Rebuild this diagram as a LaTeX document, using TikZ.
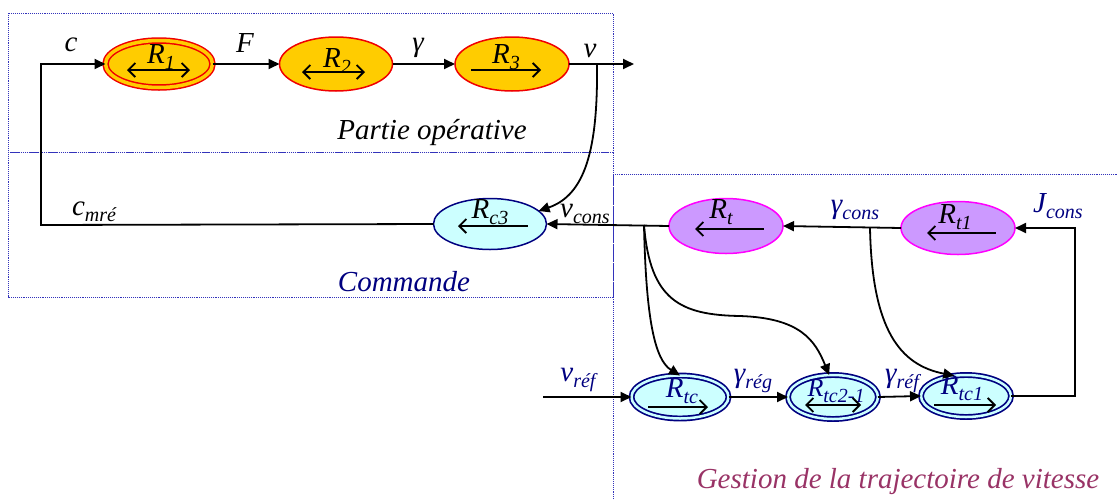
\documentclass[tikz,border=0pt]{standalone}
\usepackage{fontspec}
\setmainfont{Liberation Serif}
\usetikzlibrary{arrows.meta,shapes.geometric,calc}
\definecolor{orgF}{HTML}{FFCC00}
\definecolor{redB}{HTML}{F00000}
\definecolor{cyanF}{HTML}{CCFFFF}
\definecolor{navyB}{HTML}{000080}
\definecolor{lavF}{HTML}{CC99FF}
\definecolor{magB}{HTML}{FF00FF}
\definecolor{boxB}{HTML}{3333BB}
\definecolor{gestC}{HTML}{993366}
\newcommand\sbx[1]{\raisebox{-6pt}{\fontsize{20}{20}\selectfont #1}}
\begin{document}
\begin{tikzpicture}[x=1pt,y=-1pt,
  font=\fontsize{29}{34}\selectfont\itshape,
  conn/.style={line width=1.8pt,-{Triangle[length=11pt,width=10pt]}},
  ell/.style={ellipse,inner sep=0pt,outer sep=0pt,line width=1.5pt},
  opr/.style={ell,fill=orgF,draw=redB},
  cmd/.style={ell,fill=cyanF,draw=navyB},
  trj/.style={ell,fill=lavF,draw=magB},
  dblopr/.style={opr,double=orgF,double distance=3.5pt},
  dblcmd/.style={cmd,line width=1.7pt,double=cyanF,double distance=2.5pt},
  inarr/.style={line width=1.8pt},
  rarr/.style={inarr,-{Straight Barb[length=7pt,width=14pt]}},
  larr/.style={inarr,{Straight Barb[length=7pt,width=14pt]}-},
  biarr/.style={inarr,{Straight Barb[length=7pt,width=14pt]}-{Straight Barb[length=7pt,width=14pt]}},
  lbl/.style={anchor=base,inner sep=0pt},
  zone/.style={draw=boxB,densely dotted,line width=0.9pt}
]
\useasboundingbox (0,0) rectangle (1117,499);
% zones
\draw[zone] (8,13) rectangle (613,152);
\draw[zone] (8,152) rectangle (613,297);
\draw[zone] (613,499) -- (613,174) -- (1117,174);
\node[lbl] (tPO) at (432,139) {Partie opérative};
\node[lbl,text=navyB] (tCM) at (404,291) {Commande};
\node[lbl,text=gestC] (tGT) at (898,488) {Gestion de la trajectoire de vitesse};
% ellipses
\node[dblopr,minimum width=107pt,minimum height=47pt] (R1) at (159,64) {};
\node[opr,minimum width=113pt,minimum height=54pt] (R2) at (336,64) {};
\node[opr,minimum width=114pt,minimum height=54pt] (R3) at (512,64) {};
\node[cmd,minimum width=113pt,minimum height=51pt] (Rc3) at (490,224) {};
\node[trj,minimum width=114pt,minimum height=55pt] (Rt) at (726,226) {};
\node[trj,minimum width=114pt,minimum height=53pt] (Rt1) at (958,228) {};
\node[dblcmd,minimum width=97pt,minimum height=43pt] (Rtc) at (680,397) {};
\node[dblcmd,minimum width=90pt,minimum height=44pt] (Rtc21) at (833,397) {};
\node[dblcmd,minimum width=90pt,minimum height=42pt] (Rtc1) at (966,396) {};
% ellipse texts and inner arrows
\node[lbl] (R1t) at (161,63) {R\sbx{1}};
\draw[biarr] ($(R1)+(-32,6)$) -- ($(R1)+(31,6)$);
\node[lbl] (R2t) at (337,67) {R\sbx{2}};
\draw[biarr] ($(R2)+(-34,8)$) -- ($(R2)+(29,8)$);
\node[lbl] (R3t) at (506,63) {R\sbx{3}};
\draw[rarr] ($(R3)+(-41,6)$) -- ($(R3)+(29,6)$);
\node[lbl] (Rc3t) at (490,218) {R\sbx{c3}};
\draw[larr] ($(Rc3)+(-32,2)$) -- ($(Rc3)+(38,2)$);
\node[lbl] (Rtt) at (721,218) {R\sbx{t}};
\draw[larr] ($(Rt)+(-31,3)$) -- ($(Rt)+(38,3)$);
\node[lbl] (Rt1t) at (955,223) {R\sbx{t1}};
\draw[larr] ($(Rt1)+(-31,5)$) -- ($(Rt1)+(38,5)$);
\node[lbl,text=navyB] (Rtct) at (682,397) {R\sbx{tc}};
\draw[rarr] ($(Rtc)+(-32,10)$) -- ($(Rtc)+(28,10)$);
\node[lbl,text=navyB,font=\fontsize{26}{30}\selectfont\itshape] (Rtc21t) at (836,396) {R\sbx{tc2-1}};
\draw[biarr] ($(Rtc21)+(-28,8)$) -- ($(Rtc21)+(28,8)$);
\node[lbl,text=navyB] (Rtc1t) at (962,394) {R\sbx{tc1}};
\draw[rarr] ($(Rtc1)+(-32,9)$) -- ($(Rtc1)+(30,9)$);
% connector labels
\node[lbl] (lc) at (71,51) {c};
\node[lbl] (lF) at (245,52) {F};
\node[lbl] (lg) at (418,51) {γ};
\node[lbl] (lv) at (590,57) {v};
\node[lbl] (lcm) at (94,215) {c\sbx{mré}};
\node[lbl] (lvc) at (585,217) {v\sbx{cons}};
\node[lbl,text=navyB] (lgc) at (855,213) {γ\sbx{cons}};
\node[lbl,text=navyB] (lJ) at (1058,212) {J\sbx{cons}};
\node[lbl,text=navyB] (lvr) at (578,381) {v\sbx{réf}};
\node[lbl,text=navyB] (lgr) at (753,382) {γ\sbx{rég}};
\node[lbl,text=navyB] (lgf) at (902,382) {γ\sbx{réf}};
% coordinates
\coordinate (cl) at (41,225);
\coordinate (out) at (634,64);
\coordinate (vj) at (597,64);
\coordinate (j1) at (644,225);
\coordinate (j2) at (870,228);
\coordinate (jr) at (1075,396);
\coordinate (vin) at (543,397);
% connectors
\draw[conn] (Rc3.west) -- (cl) |- (R1.west);
\draw[conn] (R1.east) -- (R2.west);
\draw[conn] (R2.east) -- (R3.west);
\draw[conn] (R3.east) -- (out);
\draw[conn] (vj) .. controls (598,150) and (585,195) .. (Rc3.15);
\draw[conn] (Rt.west) -- (Rc3.east);
\draw[conn] (Rt1.west) -- (Rt.east);
\draw[conn] (Rtc1.east) -- (jr) |- (Rt1.east);
\draw[conn] (vin) -- (Rtc.west);
\draw[conn] (Rtc.east) -- (Rtc21.west);
\draw[conn] (Rtc21.east) -- (Rtc1.west);
\draw[conn] (j1) .. controls (646,320) and (655,360) .. (Rtc.north);
\draw[conn] (j1) .. controls (650,300) and (680,315) .. (740,316) .. controls (800,318) and (815,340) .. (Rtc21.100);
\draw[conn] (j2) .. controls (872,330) and (900,365) .. (Rtc1.120);
\end{tikzpicture}
\end{document}
